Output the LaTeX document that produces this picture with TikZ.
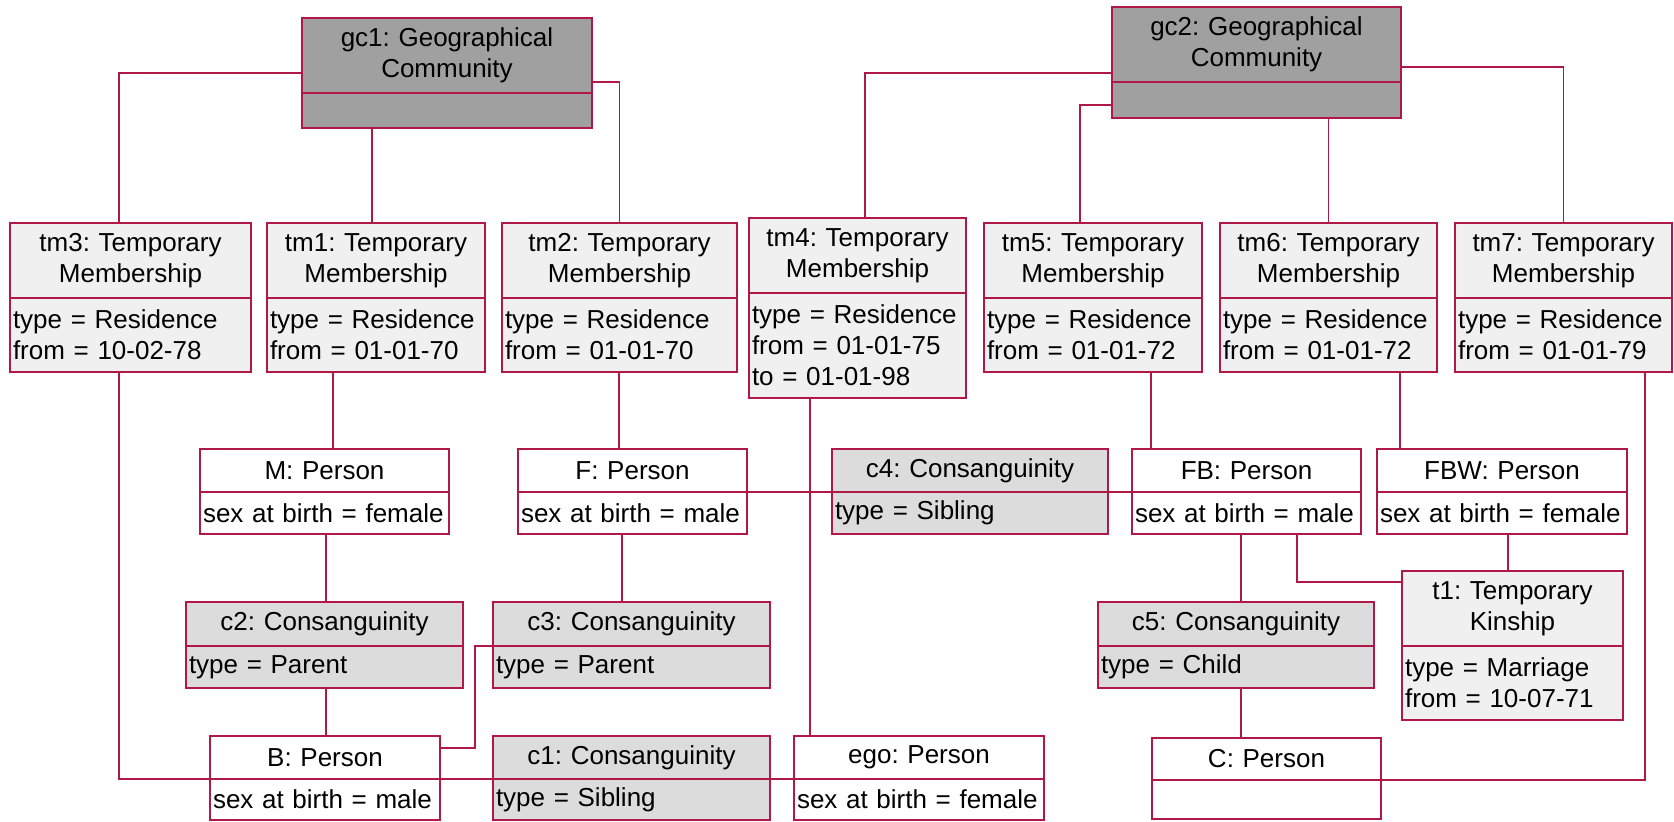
\documentclass[tikz,border=0pt]{standalone}
\usepackage{fontspec}
\setmainfont{Liberation Sans}
\frenchspacing
\usetikzlibrary{positioning}
\definecolor{umlred}{RGB}{176,24,72}
\definecolor{geogray}{RGB}{160,160,160}
\definecolor{membgray}{RGB}{240,240,240}
\definecolor{consgray}{RGB}{220,220,220}

\begin{document}
\begin{tikzpicture}[x=0.5pt,y=-0.5pt,
  every node/.style={font=\fontsize{13}{15.5}\selectfont},
  box/.style={draw=umlred,line width=0.7pt,inner xsep=1.5pt,inner ysep=1pt,outer sep=0pt,text width=#1},
  head/.style={box=#1,align=center,anchor=north west},
  slots/.style={box=#1,align=left},
  link/.style={draw=umlred,line width=0.7pt}]
\useasboundingbox (0,0) rectangle (1674,821);

% Geographical communities
\node[head=142pt,fill=geogray,minimum height=37.5pt] (gc1) at (302,18) {gc1: Geographical\\Community};
\node[slots=142pt,fill=geogray,minimum height=17.5pt,below=0pt of gc1] (gc1a) {};
\node[head=141.5pt,fill=geogray,minimum height=37.5pt] (gc2) at (1112,7) {gc2: Geographical\\Community};
\node[slots=141.5pt,fill=geogray,minimum height=18pt,below=0pt of gc2] (gc2a) {};

% Temporary memberships
\node[head=117.5pt,fill=membgray,minimum height=37.5pt] (tm3) at (10,223) {tm3: Temporary\\Membership};
\node[slots=117.5pt,fill=membgray,minimum height=37pt,below=0pt of tm3] (tm3a) {type = Residence\\from = 10-02-78};
\node[head=106pt,fill=membgray,minimum height=37.5pt] (tm1) at (267,223) {tm1: Temporary\\Membership};
\node[slots=106pt,fill=membgray,minimum height=37pt,below=0pt of tm1] (tm1a) {type = Residence\\from = 01-01-70};
\node[head=114.5pt,fill=membgray,minimum height=37.5pt] (tm2) at (502,223) {tm2: Temporary\\Membership};
\node[slots=114.5pt,fill=membgray,minimum height=37pt,below=0pt of tm2] (tm2a) {type = Residence\\from = 01-01-70};
\node[head=105.5pt,fill=membgray,minimum height=37.5pt] (tm4) at (749,218) {tm4: Temporary\\Membership};
\node[slots=105.5pt,fill=membgray,minimum height=52.5pt,below=0pt of tm4] (tm4a) {type = Residence\\from = 01-01-75\\to = 01-01-98};
\node[head=106pt,fill=membgray,minimum height=37.5pt] (tm5) at (984,223) {tm5: Temporary\\Membership};
\node[slots=106pt,fill=membgray,minimum height=37pt,below=0pt of tm5] (tm5a) {type = Residence\\from = 01-01-72};
\node[head=105.5pt,fill=membgray,minimum height=37.5pt] (tm6) at (1220,223) {tm6: Temporary\\Membership};
\node[slots=105.5pt,fill=membgray,minimum height=37pt,below=0pt of tm6] (tm6a) {type = Residence\\from = 01-01-72};
\node[head=105.5pt,fill=membgray,minimum height=37.5pt] (tm7) at (1455,223) {tm7: Temporary\\Membership};
\node[slots=105.5pt,fill=membgray,minimum height=37pt,below=0pt of tm7] (tm7a) {type = Residence\\from = 01-01-79};

% Persons
\node[head=121.5pt,fill=white,minimum height=21.5pt] (M) at (200,449) {M: Person};
\node[slots=121.5pt,fill=white,minimum height=21pt,below=0pt of M] (Ma) {sex at birth = female};
\node[head=111.5pt,fill=white,minimum height=21.5pt] (F) at (518,449) {F: Person};
\node[slots=111.5pt,fill=white,minimum height=21pt,below=0pt of F] (Fa) {sex at birth = male};
\node[head=111.5pt,fill=white,minimum height=21.5pt] (FB) at (1132,449) {FB: Person};
\node[slots=111.5pt,fill=white,minimum height=21pt,below=0pt of FB] (FBa) {sex at birth = male};
\node[head=122pt,fill=white,minimum height=21.5pt] (FBW) at (1377,449) {FBW: Person};
\node[slots=122pt,fill=white,minimum height=21pt,below=0pt of FBW] (FBWa) {sex at birth = female};
\node[head=112pt,fill=white,minimum height=21.5pt] (B) at (210,736) {B: Person};
\node[slots=112pt,fill=white,minimum height=20.5pt,below=0pt of B] (Ba) {sex at birth = male};
\node[head=122pt,fill=white,minimum height=21.5pt] (ego) at (794,736) {ego: Person};
\node[slots=122pt,fill=white,minimum height=20.5pt,below=0pt of ego] (egoa) {sex at birth = female};
\node[head=111.5pt,fill=white,minimum height=21pt] (C) at (1152,738) {C: Person};
\node[slots=111.5pt,fill=white,minimum height=19.5pt,below=0pt of C] (Ca) {};

% Consanguinities
\node[head=135pt,fill=consgray,minimum height=21.5pt] (c4) at (832,449) {c4: Consanguinity};
\node[slots=135pt,fill=consgray,minimum height=21pt,below=0pt of c4] (c4a) {type = Sibling};
\node[head=135.5pt,fill=consgray,minimum height=22pt] (c2) at (186,602) {c2: Consanguinity};
\node[slots=135.5pt,fill=consgray,minimum height=21pt,below=0pt of c2] (c2a) {type = Parent};
\node[head=135.5pt,fill=consgray,minimum height=22pt] (c3) at (493,602) {c3: Consanguinity};
\node[slots=135.5pt,fill=consgray,minimum height=21pt,below=0pt of c3] (c3a) {type = Parent};
\node[head=135pt,fill=consgray,minimum height=22pt] (c5) at (1098,602) {c5: Consanguinity};
\node[slots=135pt,fill=consgray,minimum height=21pt,below=0pt of c5] (c5a) {type = Child};
\node[head=135.5pt,fill=consgray,minimum height=21.5pt] (c1) at (493,736) {c1: Consanguinity};
\node[slots=135.5pt,fill=consgray,minimum height=20.5pt,below=0pt of c1] (c1a) {type = Sibling};

% Temporary kinship
\node[head=107.5pt,fill=membgray,minimum height=37.5pt] (t1) at (1402,571) {t1: Temporary\\Kinship};
\node[slots=107.5pt,fill=membgray,minimum height=37pt,below=0pt of t1] (t1a) {type = Marriage\\from = 10-07-71};

% Communities to memberships
\draw[link] (gc1.west |- 0,73) -| (119,0 |- tm3.north);
\draw[link] (372,0 |- gc1a.south) -- (372,0 |- tm1.north);
\draw[link] (gc1.east |- 0,82) -| (tm2.north);
\draw[link] (gc2.west |- 0,73) -| (865,0 |- tm4.north);
\draw[link] (gc2a.west |- 0,105) -| (1080,0 |- tm5.north);
\draw[link] (tm6.north |- gc2a.south) -- (tm6.north);
\draw[link] (gc2.east |- 0,67) -| (tm7.north);

% Memberships to persons
\draw[link] (119,0 |- tm3a.south) |- (B.south west);
\draw[link] (333,0 |- tm1a.south) -- (333,0 |- M.north);
\draw[link] (619,0 |- tm2a.south) -- (619,0 |- F.north);
\draw[link] (810,0 |- tm4a.south) -- (810,0 |- ego.north);
\draw[link] (1151,0 |- tm5a.south) -- (1151,0 |- FB.north);
\draw[link] (1400,0 |- tm6a.south) -- (1400,0 |- FBW.north);
\draw[link] (1645,0 |- tm7a.south) |- (C.south east);

% Kin relations
\draw[link] (326,0 |- Ma.south) -- (326,0 |- c2.north);
\draw[link] (326,0 |- c2a.south) -- (326,0 |- B.north);
\draw[link] (622,0 |- Fa.south) -- (622,0 |- c3.north);
\draw[link] (c3.south west) -| (475,748) -- (B.east |- 0,748);
\draw[link] (Fa.north east) -- (c4a.north west) (c4a.north east) -- (FBa.north west);
\draw[link] (Ba.north east) -- (c1a.north west) (c1a.north east) -- (egoa.north west);
\draw[link] (1241,0 |- FBa.south) -- (1241,0 |- c5.north);
\draw[link] (1241,0 |- c5a.south) -- (1241,0 |- C.north);
\draw[link] (1297,0 |- FBa.south) |- (t1.west |- 0,582);
\draw[link] (1508,0 |- FBWa.south) -- (1508,0 |- t1.north);
\end{tikzpicture}
\end{document}
